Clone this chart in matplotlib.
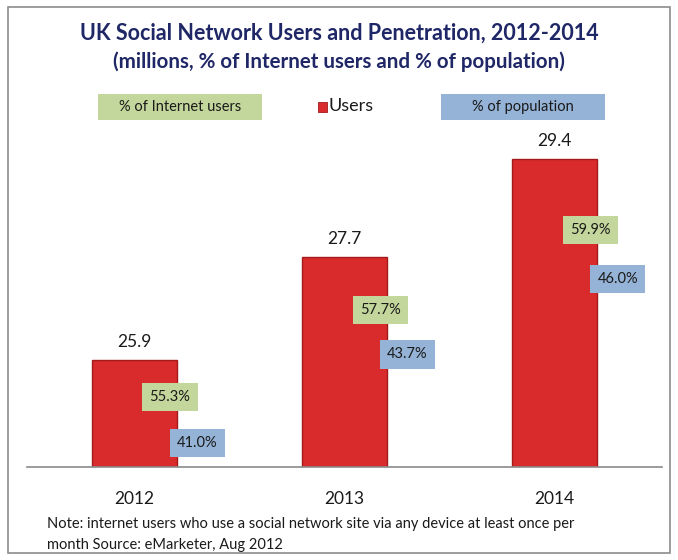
import matplotlib
matplotlib.use("Agg")
import matplotlib.pyplot as plt
import matplotlib.patches as patches

plt.rcParams['font.family'] = ['Lato', 'DejaVu Sans']

years = ["2012", "2013", "2014"]
users = [25.9, 27.7, 29.4]            # millions
pct_internet = [55.3, 57.7, 59.9]     # % of internet users
pct_population = [41.0, 43.7, 46.0]   # % of population

title = "UK Social Network Users and Penetration, 2012-2014"
subtitle = "(millions, % of Internet users and % of population)"
note = ("Note: internet users who use a social network site via any device at least once per\n"
        "month Source: eMarketer, Aug 2012")

green = "#c3d69b"
blue = "#95b3d7"
red = "#d92b2b"
navy = "#1f2766"

W, H = 678, 560
fig = plt.figure(figsize=(W / 100, H / 100), dpi=100)
fig.patch.set_facecolor("white")

# grey frame round the chart
fig.add_artist(patches.Rectangle((8 / W, 7 / H), 662 / W, 546 / H, transform=fig.transFigure,
                                 fill=False, edgecolor="#8c8c8c", linewidth=1.2))

ax = fig.add_axes([27 / W, (H - 467) / H, 635 / W, 327 / H])
x = list(range(len(years)))
ax.bar(x, users, width=0.405, color=red, edgecolor="#a31a1a", linewidth=1.0, zorder=2)
ax.set_xlim(-0.51, 2.51)
ax.set_ylim(24.037, 29.731)
for s in ["top", "right", "left"]:
    ax.spines[s].set_visible(False)
ax.spines["bottom"].set_color("#8a8a8a")
ax.spines["bottom"].set_linewidth(1.2)
ax.set_yticks([])
ax.set_xticks(x)
ax.set_xticklabels(years, fontsize=12.5, color="#1a1a1a")
ax.tick_params(axis="x", length=0, pad=17)

for xi, v in zip(x, users):
    ax.annotate(f"{v:.1f}", (xi, v), xytext=(0, 13), textcoords="offset points",
                ha="center", va="center", fontsize=12.5, color="#1a1a1a")

# percentage labels on their own scales
ax_g = ax.twinx()
ax_g.set_ylim(53.372, 62.380)
ax_g.axis("off")
for xi, v in zip(x, pct_internet):
    ax_g.text(xi + 0.17, v, f"{v:.1f}%", ha="center", va="center", fontsize=10.5,
              color="#1a1a1a", bbox=dict(boxstyle="square,pad=0.5", fc=green, ec="none"))

ax_b = ax.twinx()
ax_b.set_ylim(40.268, 50.238)
ax_b.axis("off")
for xi, v in zip(x, pct_population):
    ax_b.text(xi + 0.3, v, f"{v:.1f}%", ha="center", va="center", fontsize=10.5,
              color="#1a1a1a", bbox=dict(boxstyle="square,pad=0.5", fc=blue, ec="none"))

# titles
fig.text(0.5, 1 - 33 / H, title, ha="center", va="center", fontsize=15.5, fontweight="bold", color=navy)
fig.text(0.5, 1 - 62 / H, subtitle, ha="center", va="center", fontsize=14.8, fontweight="bold", color=navy)

# legend
fig.add_artist(patches.Rectangle((98 / W, 1 - 120 / H), 164 / W, 26 / H, transform=fig.transFigure,
                                 facecolor=green, edgecolor="none"))
fig.text(180 / W, 1 - 107 / H, "% of Internet users", ha="center", va="center", fontsize=10.5, color="#1a1a1a")
fig.add_artist(patches.Rectangle((318 / W, 1 - 112 / H), 9 / W, 10 / H, transform=fig.transFigure,
                                 facecolor=red, edgecolor="#a31a1a", linewidth=0.6))
fig.text(329 / W, 1 - 106 / H, "Users", ha="left", va="center", fontsize=13, color="#1a1a1a")
fig.add_artist(patches.Rectangle((441 / W, 1 - 120 / H), 164 / W, 26 / H, transform=fig.transFigure,
                                 facecolor=blue, edgecolor="none"))
fig.text(523 / W, 1 - 107 / H, "% of population", ha="center", va="center", fontsize=10.5, color="#1a1a1a")

# footnote
fig.text(47 / W, 1 - 534.5 / H, note, ha="left", va="center", fontsize=10.5, color="#1a1a1a",
         linespacing=1.65)

fig.savefig("out.png", dpi=100)
